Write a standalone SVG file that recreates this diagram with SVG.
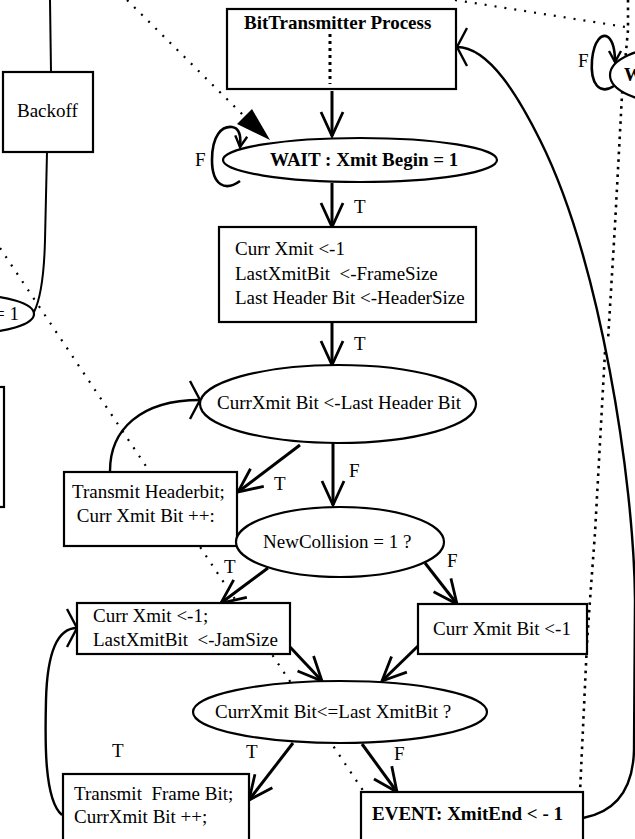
<svg xmlns="http://www.w3.org/2000/svg" width="635" height="839" viewBox="0 0 635 839">
<style>
.box{fill:#fff;stroke:#000;stroke-width:2.2}
.ell{fill:#fff;stroke:#000;stroke-width:2.2}
.t{font-family:"Liberation Serif","Times New Roman",serif;font-size:19px;fill:#000;white-space:pre}
.b{font-weight:bold}
.c{fill:none;stroke:#000;stroke-width:3}
.thin{fill:none;stroke:#000;stroke-width:2}
.loop{fill:none;stroke:#000;stroke-width:2.6}
.dot{fill:none;stroke:#000;stroke-width:2.2;stroke-dasharray:2 8}
.dotb{fill:none;stroke:#000;stroke-width:2.6;stroke-dasharray:2.6 5}
</style>
<defs>
<marker id="arr" markerUnits="userSpaceOnUse" viewBox="-27 -14 30 28" refX="0" refY="0" markerWidth="30" markerHeight="28" orient="auto">
<path d="M-24,-11 L0,0 L-24,11" fill="none" stroke="#000" stroke-width="2.8"/>
</marker>
<marker id="arrWide" markerUnits="userSpaceOnUse" viewBox="-14 -22 17 44" refX="0" refY="0" markerWidth="17" markerHeight="44" orient="auto">
<path d="M-10,-19 L0,0 L-10,19" fill="none" stroke="#000" stroke-width="2.4"/>
</marker>
<marker id="arrSmall" markerUnits="userSpaceOnUse" viewBox="-13 -9 16 18" refX="0" refY="0" markerWidth="16" markerHeight="18" orient="auto">
<path d="M-11,-6 L0,0 L-11,6" fill="none" stroke="#000" stroke-width="2.4"/>
</marker>
</defs>
<rect width="635" height="839" fill="#fff"/>

<g id="connectors">
<!-- dotted lines -->
<path class="dot" d="M127,0 L244,116"/>
<polygon points="237,124 252,109 270,140" fill="#000"/>
<path class="dot" d="M0,248 L366,795"/>
<path class="dot" d="M455,0 L632,28"/>
<path class="dotb" d="M628,0 L628,30 L622,95 L615,225 L608,340"/>
<path class="dotb" d="M605,352 L595,533 L590,600 L587,643 L580,792"/>
<path class="dotb" d="M330,34 L330,84" style="stroke-width:3;stroke-dasharray:3 4"/>
<!-- backoff lines -->
<path class="thin" d="M50,0 L51,72"/>
<path class="thin" d="M47,152 L45,240 C44,280 40,300 34,312"/>
<!-- straight arrows -->
<path class="c" d="M332,91 L332,136" marker-end="url(#arr)"/>
<path class="c" d="M332,183 L332,227" marker-end="url(#arr)"/>
<path class="c" d="M332,322 L332,365" marker-end="url(#arr)"/>
<path class="c" d="M300,445 L238,492" marker-end="url(#arr)"/>
<path class="c" d="M333,443 L333,505" marker-end="url(#arr)"/>
<path class="c" d="M268,568 L221,603" marker-end="url(#arr)"/>
<path class="c" d="M425,563 L457,604" marker-end="url(#arr)"/>
<path class="c" d="M290,647 L322,681" marker-end="url(#arr)"/>
<path class="c" d="M418,646 L382,681" marker-end="url(#arr)"/>
<path class="c" d="M293,743 L249,800" marker-end="url(#arr)"/>
<path class="c" d="M362,744 L397,792" marker-end="url(#arr)"/>
<!-- curved arrows -->
<path class="thin" style="stroke-width:2.4" d="M110,471 C110,430 140,400 200,400" marker-end="url(#arrWide)"/>
<path class="thin" style="stroke-width:2.4" d="M62,815 C44,800 45,740 46,700 C47,660 55,628 77,628" marker-end="url(#arrWide)"/>
<path class="thin" style="stroke-width:2.4" d="M583,818 C615,812 633,790 634,750 L635,600 C634,480 600,260 540,140 C520,100 490,47 457,47" marker-end="url(#arrWide)"/>
<!-- self loops -->
<path class="loop" d="M240,181 C225,192 212,185 212,160 C212,135 222,126 232,127 C240,128 241,138 240,147" marker-end="url(#arrSmall)"/>
<path class="loop" d="M614,86 C600,95 590,85 592,60 C594,40 602,33 608,37 C614,42 615,52 615,62" marker-end="url(#arrSmall)"/>
</g>

<g id="labels">
<text class="t" x="195" y="166">F</text>
<text class="t" x="578" y="67">F</text>
<text class="t" x="354" y="213">T</text>
<text class="t" x="354" y="350">T</text>
<text class="t" x="274" y="490">T</text>
<text class="t" x="349" y="477">F</text>
<text class="t" x="224" y="573">T</text>
<text class="t" x="447" y="567">F</text>
<text class="t" x="112" y="757">T</text>
<text class="t" x="246" y="758">T</text>
<text class="t" x="394" y="760">F</text>
</g>

<g id="backoff">
<rect class="box" x="3" y="72" width="90" height="80"/>
<text class="t" x="17" y="117">Backoff</text>
</g>

<g id="leftEllipse">
<ellipse class="ell" cx="-30" cy="314" rx="64" ry="19"/>
<text class="t" x="19" y="320" text-anchor="end">= 1</text>
</g>

<g id="leftBox">
<rect class="box" x="-10" y="387" width="14" height="120"/>
</g>

<g id="bitTransmitter">
<rect class="box" x="227" y="9" width="229" height="80" style="fill:none"/>
<text class="t b" x="244" y="29">BitTransmitter Process</text>
</g>

<g id="waitRight">
<ellipse class="ell" cx="672" cy="75" rx="62" ry="28"/>
<text class="t b" x="624" y="81">W</text>
</g>

<g id="wait">
<ellipse class="ell" cx="360" cy="160" rx="137" ry="22"/>
<text class="t b" x="270" y="166">WAIT : Xmit Begin = 1</text>
</g>

<g id="init">
<rect class="box" x="219" y="227" width="257" height="95"/>
<text class="t" x="235" y="255">Curr Xmit &lt;-1</text>
<text class="t" x="235" y="280">LastXmitBit  &lt;-FrameSize</text>
<text class="t" x="235" y="304">Last Header Bit &lt;-HeaderSize</text>
</g>

<g id="headerCheck">
<ellipse class="ell" cx="338" cy="404" rx="138" ry="39"/>
<text class="t" x="217" y="409">CurrXmit Bit &lt;-Last Header Bit</text>
</g>

<g id="transmitHeader">
<rect class="box" x="64" y="472" width="173" height="74"/>
<text class="t" x="72" y="498">Transmit Headerbit;</text>
<text class="t" x="72" y="522"> Curr Xmit Bit ++:</text>
</g>

<g id="collision">
<ellipse class="ell" cx="340" cy="542" rx="104" ry="35"/>
<text class="t" x="263" y="548">NewCollision = 1 ?</text>
</g>

<g id="jam">
<rect class="box" x="77" y="603" width="213" height="51"/>
<text class="t" x="93" y="622">Curr Xmit &lt;-1;</text>
<text class="t" x="93" y="646">LastXmitBit  &lt;-JamSize</text>
</g>

<g id="noCollision">
<rect class="box" x="418" y="604" width="169" height="50"/>
<text class="t" x="433" y="635">Curr Xmit Bit &lt;-1</text>
</g>

<g id="frameCheck">
<ellipse class="ell" cx="340" cy="712" rx="147" ry="31"/>
<text class="t" x="215" y="718">CurrXmit Bit&lt;=Last XmitBit ?</text>
</g>

<g id="transmitFrame">
<rect class="box" x="63" y="774" width="186" height="70"/>
<text class="t" x="74" y="800">Transmit  Frame Bit;</text>
<text class="t" x="74" y="823">CurrXmit Bit ++;</text>
</g>

<g id="event">
<rect class="box" x="361" y="792" width="222" height="52"/>
<text class="t b" x="372" y="820">EVENT: XmitEnd &lt; - 1</text>
</g>
</svg>
